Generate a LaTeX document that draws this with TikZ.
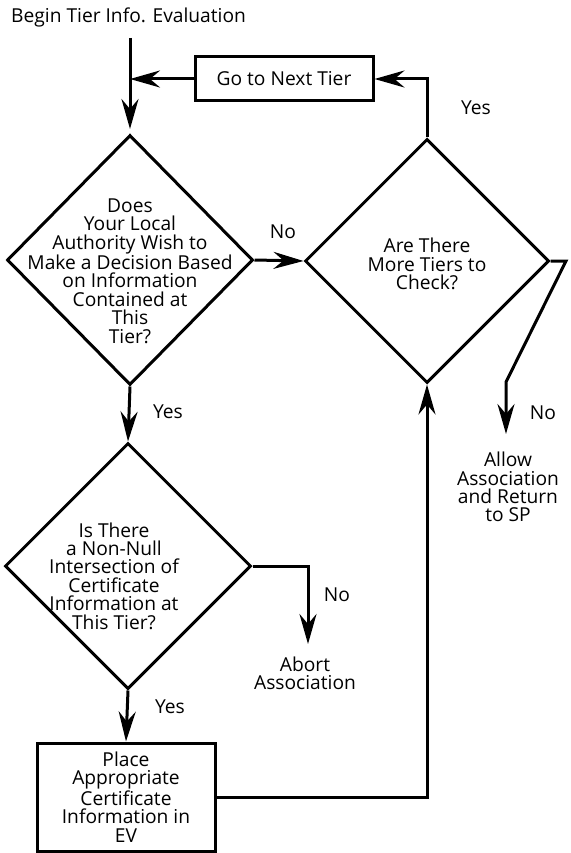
\documentclass[tikz,border=0pt]{standalone}
\usepackage{fontspec}
\setmainfont{Open Sans}
\usetikzlibrary{arrows.meta,shapes.geometric}

\tikzset{
  flow/.style={line width=3pt, line join=miter},
  arr/.style={flow, -{Stealth[length=30pt,width=17pt,inset=10pt]}},
  decision/.style={draw, line width=3pt, shape=diamond, inner sep=0pt, minimum width=#1},
  stepbox/.style={draw, line width=3pt, inner sep=0pt, align=center},
  txt/.style={align=center, font=\fontsize{19.2}{18.4}\selectfont, inner sep=0pt},
}

\begin{document}
\begin{tikzpicture}[x=1pt, y=-1pt]
\useasboundingbox (0,0) rectangle (570,853);

% title and entry
\node[txt, anchor=west] (title) at (11,17) {Begin Tier Info. Evaluation};
\coordinate (start) at (130,38);
\coordinate (d1in) at (130,129);

% shapes
\node[decision=246pt, minimum height=250pt] (d1) at (130,260) {};
\node[txt] (t1) at (130,271) {Does\\Your Local\\Authority Wish to\\Make a Decision Based\\on Information\\Contained at\\This\\Tier?};

\node[decision=244pt, minimum height=244pt] (d2) at (427,261) {};
\node[txt] (t2) at (427,264) {Are There\\More Tiers to\\Check?};

\node[decision=246pt, minimum height=246pt] (d3) at (128,566) {};
\node[txt] (t3) at (114,576) {Is There\\a Non-Null\\Intersection of\\Certificate\\Information at\\This Tier?};

\node[stepbox, txt, minimum width=178pt, minimum height=44pt] (go) at (284,79) {Go to Next Tier};
\node[stepbox, txt, minimum width=178pt, minimum height=108pt] (place) at (126,797) {Place\\Appropriate\\Certificate\\Information in\\EV};

\node[txt] (allow) at (508,487) {Allow\\Association\\and Return\\to SP};
\node[txt] (abort) at (305,673) {Abort\\Association};

% connectors
\draw[arr] (start) -- (d1in);
\draw[arr] (go.west) -- (go.west -| start);
\draw[arr] (d1.east) -- (d2.west);
\node[txt] (no1) at (283,232) {No};
\draw[arr] (d2.north) |- (go.east);
\node[txt] (yes1) at (476,108) {Yes};

\coordinate (r1) at (566,261);
\coordinate (r2) at (506,382);
\coordinate (r3) at (506,434);
\draw[arr] (d2.east) -- (r1) -- (r2) -- (r3);
\node[txt] (no2) at (543,413) {No};

\draw[arr] (d1.south) -- (d3.north);
\node[txt] (yes2) at (168,412) {Yes};

\coordinate (a1) at (308,566);
\coordinate (a2) at (308,644);
\draw[arr] (d3.east) -- (a1) -- (a2);
\node[txt] (no3) at (337,595) {No};

\draw[arr] (d3.south) -- (place.north);
\node[txt] (yes3) at (170,707) {Yes};

\draw[arr] (place.east) -| (d2.south);
\end{tikzpicture}
\end{document}
